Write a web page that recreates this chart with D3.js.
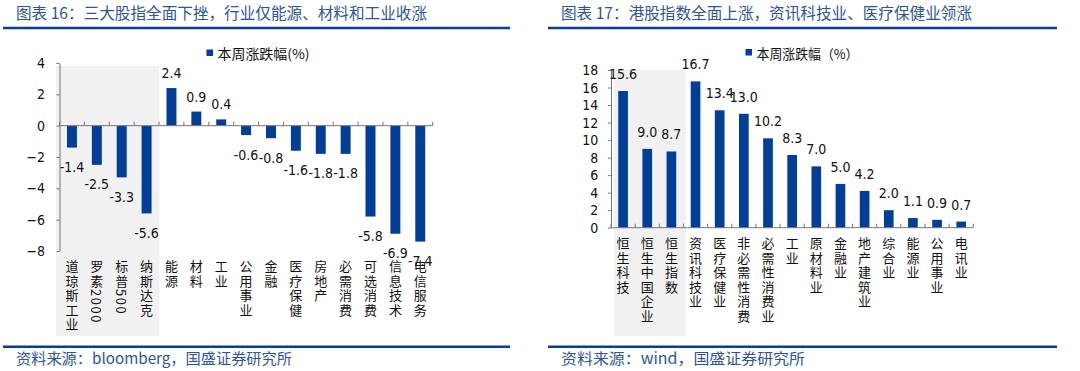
<!DOCTYPE html>
<html><head><meta charset="utf-8">
<script src="https://cdn.jsdelivr.net/npm/d3@7"></script>
<style>
body{margin:0;background:#fff;}
svg{display:block;}
text.cat{writing-mode:vertical-rl;text-orientation:mixed;}
</style></head>
<body><svg id="c" width="1080" height="371"></svg>
<script>
// ---------- data ----------
const leftTitle = "图表 16：三大股指全面下挫，行业仅能源、材料和工业收涨";
const leftLegend = "本周涨跌幅(%)";
const leftSource = "资料来源：bloomberg，国盛证券研究所";
const leftCats = ["道琼斯工业","罗素2000","标普500","纳斯达克","能源","材料","工业","公用事业","金融","医疗保健","房地产","必需消费","可选消费","信息技术","电信服务"];
const leftVals = [-1.4,-2.5,-3.3,-5.6,2.4,0.9,0.4,-0.6,-0.8,-1.6,-1.8,-1.8,-5.8,-6.9,-7.4];
const leftTicks = [4,2,0,-2,-4,-6,-8];

const rightTitle = "图表 17：港股指数全面上涨，资讯科技业、医疗保健业领涨";
const rightLegend = "本周涨跌幅（%）";
const rightSource = "资料来源：wind，国盛证券研究所";
const rightCats = ["恒生科技","恒生中国企业","恒生指数","资讯科技业","医疗保健业","非必需性消费","必需性消费业","工业","原材料业","金融业","地产建筑业","综合业","能源业","公用事业","电讯业"];
const rightVals = [15.6,9.0,8.7,16.7,13.4,13.0,10.2,8.3,7.0,5.0,4.2,2.0,1.1,0.9,0.7];
const rightTicks = [0,2,4,6,8,10,12,14,16,18];

// ---------- style ----------
const BAR = "#003e97";
const TITLE_C = "#2e5597";
const LINE_C = "#0b3d91";
const NUMF = "Tahoma, 'DejaVu Sans Condensed', 'Liberation Sans', sans-serif";
const CJKF = "'Noto Sans CJK SC', sans-serif";

const svg = d3.select("#c");

function panel(o){
  const g = svg.append("g");
  // title
  g.append("text").attr("x", o.px + 13).attr("y", 11.5)
    .attr("dominant-baseline","central")
    .attr("font-family", CJKF).attr("font-size", 15.5)
    .attr("fill", TITLE_C).attr("textLength", 411).attr("lengthAdjust","spacingAndGlyphs")
    .text(o.title);
  g.append("line").attr("x1", o.lx0).attr("x2", o.lx1).attr("y1", 28).attr("y2", 28)
    .attr("stroke", LINE_C).attr("stroke-width", 2.5);
  g.append("line").attr("x1", o.lx0).attr("x2", o.lx1).attr("y1", 346.7).attr("y2", 346.7)
    .attr("stroke", LINE_C).attr("stroke-width", 2.5);
  g.append("text").attr("x", o.px + 13).attr("y", 357.5)
    .attr("dominant-baseline","central")
    .attr("font-family", CJKF).attr("font-size", 15)
    .attr("fill", TITLE_C).attr("textLength", o.srcLen).attr("lengthAdjust","spacingAndGlyphs")
    .text(o.source);

  const x = d3.scaleBand().domain(o.cats).range([o.x0, o.x1]).paddingInner(0.6).paddingOuter(0.3);
  const y = d3.scaleLinear().domain(o.domain).range([o.yb, o.yt]);

  // shaded region
  g.append("rect").attr("x", o.shade[0]).attr("width", o.shade[1]-o.shade[0])
    .attr("y", o.shade[2]).attr("height", o.shade[3]-o.shade[2]).attr("fill", "#f1f1f1");

  // legend
  g.append("rect").attr("x", o.leg[0]).attr("y", o.leg[1]).attr("width", 6.5).attr("height", 6.5).attr("fill", BAR);
  g.append("text").attr("x", o.leg[0] + 11).attr("y", o.leg[1] + 3.5)
    .attr("dominant-baseline","central").attr("font-family", CJKF).attr("font-size", 13.5)
    .attr("fill", "#111").attr("textLength", o.legLen).attr("lengthAdjust","spacingAndGlyphs").text(o.legend);

  // y axis
  const ya = g.append("g").attr("transform", `translate(${o.x0},0)`)
    .call(d3.axisLeft(y).tickValues(o.ticks).tickSize(3).tickSizeOuter(0).tickPadding(o.tickPad).tickFormat(d3.format("d")));
  ya.select(".domain").attr("stroke", "#777");
  ya.selectAll(".tick line").attr("stroke", "#777");
  ya.selectAll(".tick text").attr("font-family", NUMF).attr("font-size", 14).attr("fill", "#111");

  // bars
  g.selectAll("rect.bar").data(o.vals).join("rect").attr("class","bar")
    .attr("x", (d,i) => x(o.cats[i])).attr("width", x.bandwidth())
    .attr("y", d => y(Math.max(0,d))).attr("height", d => Math.abs(y(d)-y(0)))
    .attr("fill", BAR);

  // x axis line & ticks
  g.append("line").attr("x1", o.x0).attr("x2", o.x1).attr("y1", y(0)).attr("y2", y(0)).attr("stroke", "#777");
  g.selectAll("line.xt").data(d3.range(o.cats.length + 1)).join("line").attr("class","xt")
    .attr("x1", i => o.x0 + i * x.step()).attr("x2", i => o.x0 + i * x.step())
    .attr("y1", y(0)).attr("y2", y(0) - 4).attr("stroke", "#777");

  // value labels
  g.selectAll("text.val").data(o.vals).join("text").attr("class","val")
    .attr("x", (d,i) => x(o.cats[i]) + x.bandwidth()/2)
    .attr("y", d => d >= 0 ? y(d) - o.posOff : y(d) + 19.5)
    .attr("text-anchor","middle").attr("dominant-baseline","central")
    .attr("font-family", NUMF).attr("font-size", 14).attr("fill", "#111")
    .text(d => d.toFixed(1));

  // category labels (vertical, one text each)
  g.selectAll("text.cat").data(o.cats).join("text").attr("class","cat")
    .attr("x", c => x(c) + x.bandwidth()/2)
    .attr("y", o.yb + 9)
    .attr("font-family", CJKF).attr("font-size", 13).attr("fill", "#111")
    .attr("letter-spacing", 1.5)
    .text(c => c);
}

panel({
  px: 3, lx0: 3, lx1: 510, title: leftTitle, source: leftSource, srcLen: 276,
  cats: leftCats, vals: leftVals, ticks: leftTicks, domain: [-8,4],
  x0: 59.5, x1: 432.7, yb: 251, yt: 63,
  shade: [56, 159.3, 66, 336], leg: [206.5, 49.5], legLen: 92, legend: leftLegend,
  tickPad: 11.5, posOff: 15
});
panel({
  px: 548, lx0: 548, lx1: 1057, title: rightTitle, source: rightSource, srcLen: 244,
  cats: rightCats, vals: rightVals, ticks: rightTicks, domain: [0,18],
  x0: 611, x1: 973.3, yb: 227.7, yt: 70,
  shade: [614, 686, 70, 336], leg: [745.5, 49], legLen: 102, legend: rightLegend,
  tickPad: 9.7, posOff: 17
});
</script>
</body></html>
